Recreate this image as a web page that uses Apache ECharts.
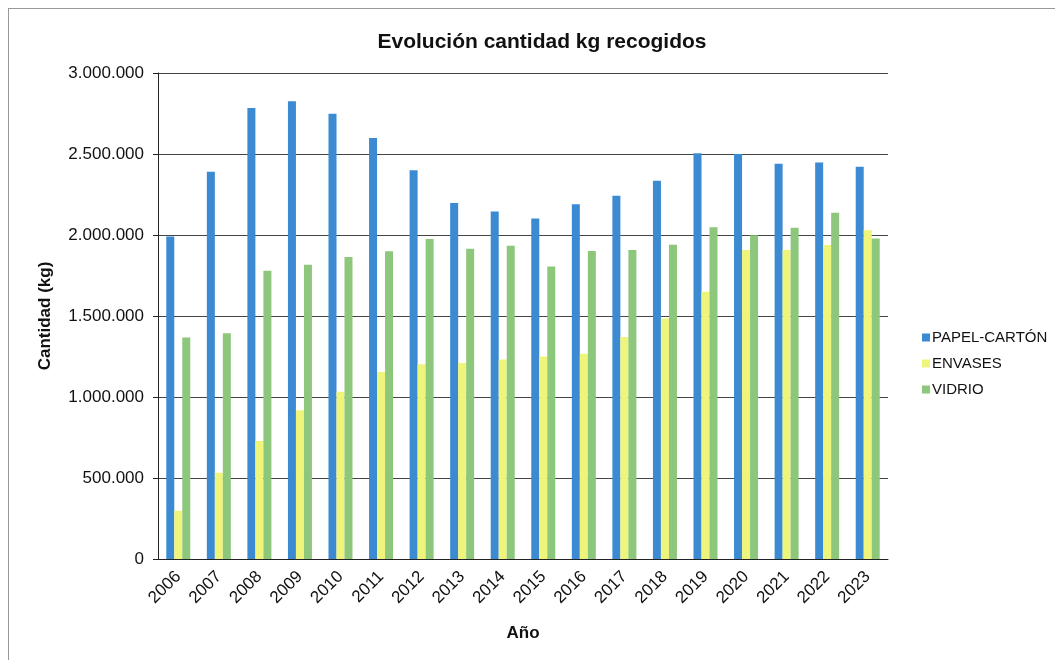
<!DOCTYPE html>
<html>
<head>
<meta charset="utf-8">
<script src="https://cdn.jsdelivr.net/npm/echarts@6/dist/echarts.min.js"></script>
<style>
  html, body { margin: 0; padding: 0; background: #fff; }
  #chart { width: 1055px; height: 660px; }
  .frame { position: absolute; left: 8px; top: 8px; width: 1060px; height: 660px; border-left: 1px solid #999; border-top: 1px solid #999; pointer-events: none; }
</style>
</head>
<body>
<div id="chart"></div>
<div class="frame"></div>
<script>
// años y kg recogidos por tipo de residuo
const years = ['2006', '2007', '2008', '2009', '2010', '2011', '2012', '2013', '2014',
  '2015', '2016', '2017', '2018', '2019', '2020', '2021', '2022', '2023']
const papelCarton = [1990000, 2390000, 2784000, 2825000, 2748000, 2598000, 2400000, 2198000, 2145000,
  2102000, 2190000, 2242000, 2335000, 2505000, 2500000, 2440000, 2447000, 2422000]
const envases = [298000, 532000, 728000, 918000, 1033000, 1155000, 1202000, 1210000, 1232000,
  1250000, 1267000, 1370000, 1485000, 1650000, 1908000, 1908000, 1938000, 2030000]
const vidrio = [1368000, 1394000, 1779000, 1817000, 1864000, 1900000, 1976000, 1915000, 1933000,
  1805000, 1902000, 1908000, 1940000, 2048000, 1998000, 2045000, 2138000, 1978000]
const yTicks = [0, 500000, 1000000, 1500000, 2000000, 2500000, 3000000]

const fmt = v => String(v).replace(/\B(?=(\d{3})+(?!\d))/g, '.')

const chart = echarts.init(document.getElementById('chart'))
const txt = '#111'
chart.setOption({
  animation: false,
  textStyle: { fontFamily: 'Liberation Sans, Arial, sans-serif' },
  title: {
    text: 'Evolución cantidad kg recogidos',
    left: 537,
    textAlign: 'center',
    top: 27,
    textStyle: { fontSize: 21, fontWeight: 'bold', color: txt }
  },
  legend: {
    orient: 'vertical',
    left: 917,
    top: 325,
    itemWidth: 8,
    itemHeight: 8,
    itemGap: 11,
    icon: 'rect',
    textStyle: { fontSize: 15, color: txt, padding: [0, 0, 0, -3] },
    data: ['PAPEL-CARTÓN', 'ENVASES', 'VIDRIO']
  },
  grid: { left: 158, right: 167, top: 73, bottom: 101, containLabel: false },
  xAxis: {
    type: 'category',
    data: years,
    name: 'Año',
    nameLocation: 'middle',
    nameGap: 66,
    nameTextStyle: { fontSize: 17, fontWeight: 'bold', color: txt },
    axisLine: { lineStyle: { color: '#222' } },
    axisTick: { show: false },
    axisLabel: { rotate: 45, fontSize: 17, color: txt, margin: 15, interval: 0 }
  },
  yAxis: {
    type: 'value',
    min: 0,
    max: yTicks[yTicks.length - 1],
    interval: yTicks[1] - yTicks[0],
    name: 'Cantidad (kg)',
    nameLocation: 'middle',
    nameGap: 104,
    nameTextStyle: { fontSize: 17, fontWeight: 'bold', color: txt },
    axisLine: { show: true, lineStyle: { color: '#222' } },
    axisTick: { show: true, inside: false, length: 5, lineStyle: { color: '#222' } },
    axisLabel: { fontSize: 17, color: txt, margin: 14, formatter: v => fmt(v) },
    splitLine: { lineStyle: { color: '#444', width: 1 } }
  },
  series: [
    { name: 'PAPEL-CARTÓN', type: 'bar', data: papelCarton, barWidth: 8, barGap: '0%',
      itemStyle: { color: '#3b8ad2' } },
    { name: 'ENVASES', type: 'bar', data: envases, barWidth: 8, barGap: '0%',
      itemStyle: { color: '#eef57a' } },
    { name: 'VIDRIO', type: 'bar', data: vidrio, barWidth: 8, barGap: '0%',
      itemStyle: { color: '#8dc77b' } }
  ]
})
</script>
</body>
</html>
